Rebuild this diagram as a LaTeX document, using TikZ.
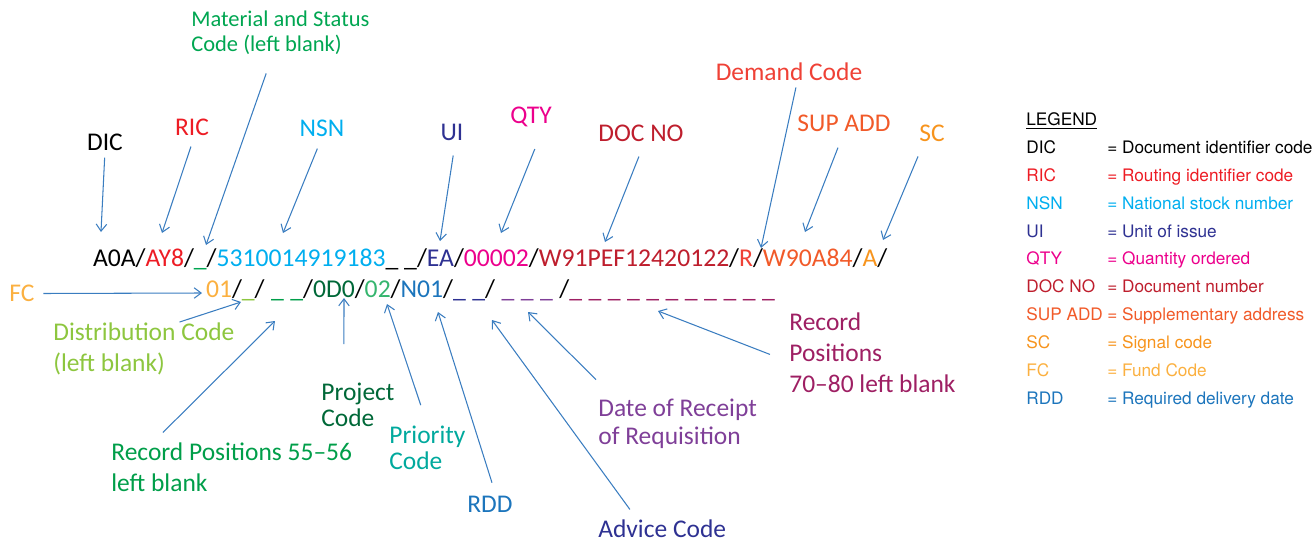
\documentclass[tikz,border=0pt]{standalone}
\usepackage{fontspec}
\setmainfont{Carlito}
\newfontfamily\legendfont{TeX Gyre Heros}
\usepackage[HTML]{xcolor}
\usepackage{tikz}
\usetikzlibrary{positioning, arrows.meta}

\definecolor{ricred}{HTML}{ED1C24}
\definecolor{mscgreen}{HTML}{00A651}
\definecolor{nsnblue}{HTML}{00AEEF}
\definecolor{uiblue}{HTML}{2E3192}
\definecolor{qtypink}{HTML}{EC008C}
\definecolor{docred}{HTML}{BE1E2D}
\definecolor{dmdred}{HTML}{EF4136}
\definecolor{supadd}{HTML}{F15A29}
\definecolor{scorange}{HTML}{F7941D}
\definecolor{fcorange}{HTML}{FBB040}
\definecolor{rddblue}{HTML}{1C75BC}
\definecolor{distgreen}{HTML}{8DC63F}
\definecolor{rpgreen}{HTML}{009E49}
\definecolor{projgreen}{HTML}{006838}
\definecolor{prioteal}{HTML}{00A99D}
\definecolor{priogreen}{HTML}{35B56E}
\definecolor{advblue}{HTML}{2E3192}
\definecolor{dorpurple}{HTML}{7F3F98}
\definecolor{rpmagenta}{HTML}{9E1F63}
\definecolor{arrowblue}{HTML}{3A7DC0}

\newcommand{\wideblanks}{\spaceskip=3.7pt\relax}

\tikzset{
  field/.style={inner sep=0pt, outer sep=0pt, font=\fontsize{14.6}{17.6}\selectfont},
  blankfield/.style={field, execute at begin node=\wideblanks},
  lbl/.style={inner sep=0pt, font=\fontsize{14.5}{17.6}\selectfont},
  pointer/.style={draw=arrowblue, line width=0.6pt, -{Straight Barb[length=4pt,width=6pt]}},
}

\begin{document}
\begin{tikzpicture}[x=0.02cm, y=-0.02cm]
\useasboundingbox (0,0) rectangle (1316,541);

% requisition, first line
\node[field, anchor=base west] (dic) at (93,266) {A0A/};
\node[field, base right=0pt of dic] (ric) {\textcolor{ricred}{AY8}/};
\node[field, base right=0pt of ric] (msc) {\textcolor{mscgreen}{\_}/};
\node[field, base right=0pt of msc] (nsn) {\textcolor{nsnblue}{5310014919183}\_ \_/};
\node[field, base right=0pt of nsn] (ui) {\textcolor{uiblue}{EA}/};
\node[field, base right=0pt of ui] (qty) {\textcolor{qtypink}{00002}/};
\node[field, base right=0pt of qty] (docno) {\textcolor{docred}{W91PEF12420122}/};
\node[field, base right=0pt of docno] (dmd) {\textcolor{dmdred}{R}/};
\node[field, base right=0pt of dmd] (sup) {\textcolor{supadd}{W90A84}/};
\node[field, base right=0pt of sup] (sc) {\textcolor{scorange}{A}/};

% requisition, second line
\node[blankfield, anchor=base west] (fc) at (206,297) {\textcolor{fcorange}{01}/};
\node[blankfield, base right=0pt of fc] (dist) {\textcolor{distgreen}{\_}/};
\node[blankfield, base right=0pt of dist] (rpa) {\textcolor{rpgreen}{\ \_ \_}/};
\node[blankfield, base right=0pt of rpa] (proj) {\textcolor{projgreen}{0D0}/};
\node[blankfield, base right=0pt of proj] (prio) {\textcolor{priogreen}{02}/};
\node[blankfield, base right=0pt of prio] (rdd) {\textcolor{rddblue}{N01}/};
\node[blankfield, base right=0pt of rdd] (adv) {\textcolor{advblue}{\_ \_}/};
\node[blankfield, base right=0pt of adv] (dor) {\textcolor{dorpurple}{\ \_ \_ \_\ }/};
\node[blankfield, base right=0pt of dor] (rpb) {\textcolor{rpmagenta}{\_ \_ \_ \_ \_ \_ \_ \_ \_ \_ \_}};

% labels above
\node[lbl, anchor=base] (dicl) at (105,150) {DIC};
\node[lbl, anchor=base, text=ricred] (ricl) at (192,135) {RIC};
\node[lbl, anchor=base west, align=left, text=mscgreen, font=\fontsize{12.8}{14.2}\selectfont] (mscl) at (191,51.7) {Material and Status\\Code (left blank)};
\node[lbl, anchor=base, text=nsnblue] (nsnl) at (322,136.7) {NSN};
\node[lbl, anchor=base, text=uiblue] (uil) at (452,140) {UI};
\node[lbl, anchor=base, text=qtypink] (qtyl) at (531,123.3) {QTY};
\node[lbl, anchor=base, text=docred] (docnol) at (641,141) {DOC NO};
\node[lbl, anchor=base, text=dmdred] (dmdl) at (789,80) {Demand Code};
\node[lbl, anchor=base, text=supadd] (supl) at (844,131.7) {SUP ADD};
\node[lbl, anchor=base, text=scorange] (scl) at (932,141) {SC};

% labels below
\node[lbl, anchor=base, text=fcorange] (fcl) at (22,301.7) {FC};
\node[lbl, anchor=base west, align=left, text=distgreen] (distl) at (53,371) {Distribution Code\\(left blank)};
\node[lbl, anchor=base west, align=left, text=rpgreen, font=\fontsize{14.5}{18}\selectfont] (rpal) at (111,491.7) {Record Positions 55--56\\left blank};
\node[lbl, anchor=base west, align=left, text=projgreen, font=\fontsize{14.5}{14.8}\selectfont] (projl) at (321,426) {Project\\Code};
\node[lbl, anchor=base west, align=left, text=prioteal, font=\fontsize{14.5}{14.8}\selectfont] (priol) at (389,469) {Priority\\Code};
\node[lbl, anchor=base, text=rddblue] (rddl) at (490,512) {RDD};
\node[lbl, anchor=base west, text=advblue] (advl) at (598,537) {Advice Code};
\node[lbl, anchor=base west, align=left, text=dorpurple, font=\fontsize{14.5}{15.6}\selectfont] (dorl) at (598,444) {Date of Receipt\\of Requisition};
\node[lbl, anchor=base west, align=left, text=rpmagenta] (rpbl) at (789,392.7) {Record\\Positions\\70--80 left blank};

% arrow tips
\coordinate (dict) at (101,232);
\coordinate (rict) at (162,233);
\coordinate (msct) at (206,245);
\coordinate (nsnt) at (283,233);
\coordinate (uit) at (440,241);
\coordinate (qtyt) at (501,233);
\coordinate (docnot) at (605,242);
\coordinate (dmdt) at (761,248);
\coordinate (supt) at (805,232);
\coordinate (sct) at (883,240);
\coordinate (fct) at (202,293);
\coordinate (distt) at (241,302);
\coordinate (rpat) at (275,321);
\coordinate (projt) at (344,298);
\coordinate (priot) at (387,304);
\coordinate (rddt) at (438,312);
\coordinate (advt) at (492,320);
\coordinate (dort) at (528,312);
\coordinate (rpbt) at (658,311);

\draw[pointer, shorten <=4pt] (dicl.south) -- (dict);
\draw[pointer, shorten <=6.6pt] ([xshift=1.5pt]ricl.south) -- (rict);
\draw[pointer, shorten <=11pt] (mscl) -- (msct);
\draw[pointer, shorten <=7pt] (nsnl.south) -- (nsnt);
\draw[pointer, shorten <=8.6pt] ([xshift=2pt]uil.south) -- (uit);
\draw[pointer, shorten <=13.5pt] ([xshift=7.2pt]qtyl.south) -- (qtyt);
\draw[pointer, shorten <=9.2pt] ([xshift=2.2pt]docnol.south) -- (docnot);
\draw[pointer, shorten <=4pt] ([xshift=4.8pt]dmdl.south) -- (dmdt);
\draw[pointer, shorten <=9.4pt] (supl.south) -- (supt);
\draw[pointer, shorten <=9.2pt] ([xshift=-4.4pt]scl.south) -- (sct);

\draw[pointer, shorten <=4.8pt] (fcl.east) -- (fct);
\draw[pointer] ([xshift=20.3pt]distl.north) -- (distt);
\draw[pointer, shorten <=7.7pt] ([xshift=24.1pt]rpal.north west) -- (rpat);
\draw[pointer, shorten <=21.6pt] ([xshift=-8pt]projl.north) -- (projt);
\draw[pointer, shorten <=12pt] (priol.north) -- (priot);
\draw[pointer, shorten <=7.5pt] ([xshift=3.4pt]rddl.north) -- (rddt);
\draw[pointer, shorten <=6.7pt] ([xshift=22.1pt]advl.north west) -- (advt);
\draw[pointer, shorten <=15.4pt] ([xshift=9.8pt]dorl.north west) -- (dort);
\draw[pointer, shorten <=11.6pt] ([yshift=-5pt]rpbl.west) -- (rpbt);

% legend
\node[anchor=base west, inner sep=0pt, font=\legendfont\fontsize{9.8}{15.87}\selectfont] (legend) at (1026,125.5) {%
\begin{tabular}[t]{@{}l@{\hspace{2.5pt}}l@{}}
\multicolumn{2}{@{}l}{\underline{LEGEND}}\\
DIC & = Document identifier code\\
\color{ricred}RIC & \color{ricred}= Routing identifier code\\
\color{nsnblue}NSN & \color{nsnblue}= National stock number\\
\color{uiblue}UI & \color{uiblue}= Unit of issue\\
\color{qtypink}QTY & \color{qtypink}= Quantity ordered\\
\color{docred}DOC NO & \color{docred}= Document number\\
\color{supadd}SUP ADD & \color{supadd}= Supplementary address\\
\color{scorange}SC & \color{scorange}= Signal code\\
\color{fcorange}FC & \color{fcorange}= Fund Code\\
\color{rddblue}RDD & \color{rddblue}= Required delivery date
\end{tabular}};
\end{tikzpicture}
\end{document}
